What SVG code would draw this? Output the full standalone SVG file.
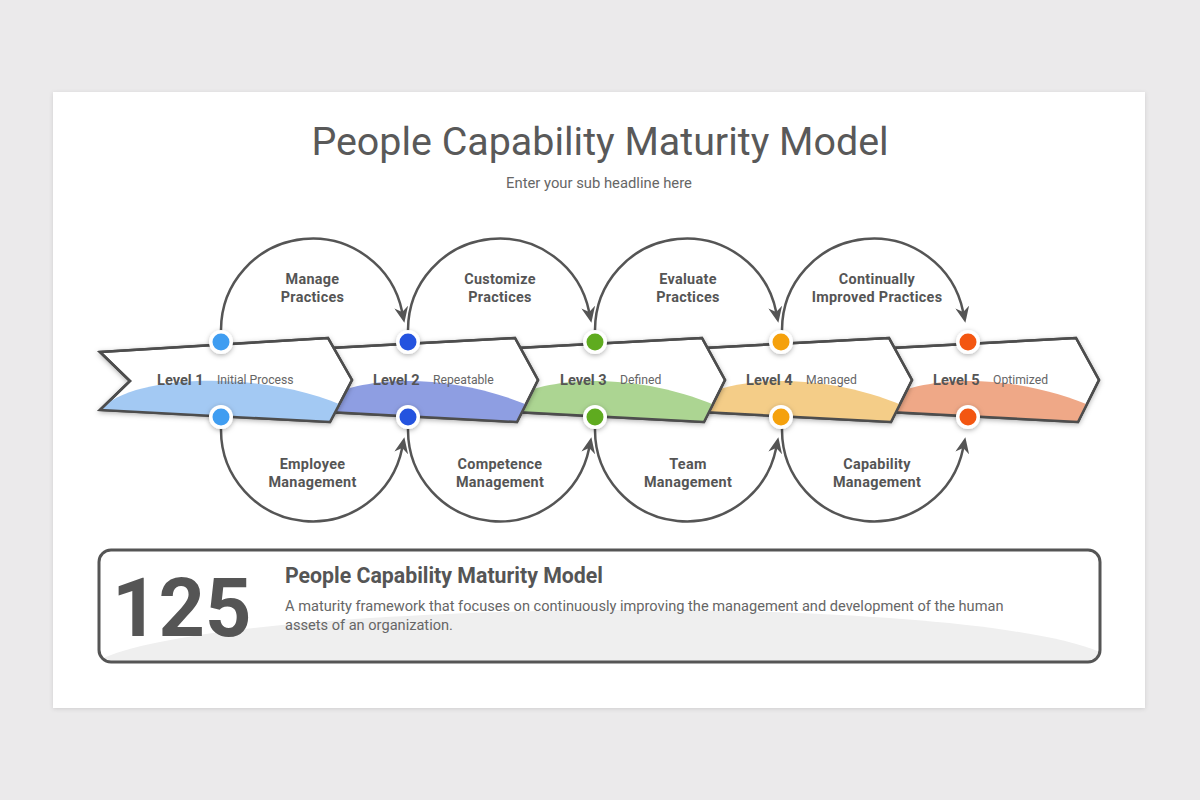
<svg xmlns="http://www.w3.org/2000/svg" width="1200" height="800" viewBox="0 0 1200 800">
<defs>
<style>
.title{font-family:Roboto,"Liberation Sans",sans-serif;font-size:39.4px;fill:#595959;text-anchor:middle}
.sub{font-family:Roboto,"Liberation Sans",sans-serif;font-size:14.8px;fill:#666;text-anchor:middle}
.chev{fill:#fff;stroke:#4d4d4d;stroke-width:2.5;stroke-linejoin:miter}
.chevline{fill:none;stroke:#4d4d4d;stroke-width:2.5;stroke-linejoin:miter}
.lvl{font-family:Roboto,"Liberation Sans",sans-serif;font-size:14.6px;font-weight:bold;fill:#555}
.lvlsub{font-family:Roboto,"Liberation Sans",sans-serif;font-size:12.2px;fill:#666}
.loop{fill:none;stroke:#555;stroke-width:2.5}
.lbl{font-family:Roboto,"Liberation Sans",sans-serif;font-size:14.4px;font-weight:bold;fill:#555;text-anchor:middle;letter-spacing:0.3px}
.ring{fill:#fff;filter:url(#sh)}
.big{font-family:Roboto,"Liberation Sans",sans-serif;font-size:81px;font-weight:bold;fill:#555}
.h2{font-family:Roboto,"Liberation Sans",sans-serif;font-size:21.3px;font-weight:bold;fill:#555}
.desc{font-family:Roboto,"Liberation Sans",sans-serif;font-size:14.6px;fill:#666}
</style>
<filter id="sh" x="-30%" y="-30%" width="160%" height="160%">
<feDropShadow dx="0" dy="1.5" stdDeviation="2.5" flood-color="#000" flood-opacity="0.3"/>
</filter>
<filter id="cardsh" x="-5%" y="-5%" width="110%" height="110%">
<feDropShadow dx="0" dy="1" stdDeviation="2" flood-color="#000" flood-opacity="0.12"/>
</filter>
<marker id="ah" viewBox="0 0 16 14" refX="5" refY="7" markerWidth="16" markerHeight="14" markerUnits="userSpaceOnUse" orient="auto">
<path d="M0,0 L16,7 L0,14 L5,7 Z" fill="#555"/>
</marker>
<clipPath id="c1"><path d="M100,352 L328,338 L352,380 L330,422 L100,410 L130,381 Z"/></clipPath>
<clipPath id="c2"><path d="M330,348 L515,338 L538,380 L517,422 L328,412 L345,380 Z"/></clipPath>
<clipPath id="c3"><path d="M517,348 L702,338 L725,380 L704,422 L515,412 L532,380 Z"/></clipPath>
<clipPath id="c4"><path d="M704,348 L889,338 L912,380 L891,422 L702,412 L719,380 Z"/></clipPath>
<clipPath id="c5"><path d="M891,348 L1076,338 L1099,380 L1078,422 L889,412 L906,380 Z"/></clipPath>
<clipPath id="boxclip"><rect x="99" y="550" width="1001" height="112" rx="12"/></clipPath>
</defs>

<rect width="1200" height="800" fill="#ebeaeb"/>
<rect x="53" y="92" width="1092" height="616" fill="#fff" filter="url(#cardsh)"/>

<text class="title" x="600" y="155">People Capability Maturity Model</text>
<text class="sub" x="599" y="188">Enter your sub headline here</text>

<g id="connectors">
<path class="loop" d="M221,336 L221,330 A91.5,91.5 0 0 1 402.2,312" marker-end="url(#ah)"/>
<path class="loop" d="M408,336 L408,330 A91.5,91.5 0 0 1 589.2,312" marker-end="url(#ah)"/>
<path class="loop" d="M595,336 L595,330 A91.5,91.5 0 0 1 776.2,312" marker-end="url(#ah)"/>
<path class="loop" d="M782,336 L782,330 A91.5,91.5 0 0 1 963.2,312" marker-end="url(#ah)"/>
<path class="loop" d="M221,424 L221,430 A91.5,91.5 0 0 0 402.2,448" marker-end="url(#ah)"/>
<path class="loop" d="M408,424 L408,430 A91.5,91.5 0 0 0 589.2,448" marker-end="url(#ah)"/>
<path class="loop" d="M595,424 L595,430 A91.5,91.5 0 0 0 776.2,448" marker-end="url(#ah)"/>
<path class="loop" d="M782,424 L782,430 A91.5,91.5 0 0 0 963.2,448" marker-end="url(#ah)"/>
</g>

<g id="loop-labels">
<text class="lbl" x="312.5" y="284">Manage</text>
<text class="lbl" x="312.5" y="302">Practices</text>
<text class="lbl" x="500" y="284">Customize</text>
<text class="lbl" x="500" y="302">Practices</text>
<text class="lbl" x="688" y="284">Evaluate</text>
<text class="lbl" x="688" y="302">Practices</text>
<text class="lbl" x="877" y="284">Continually</text>
<text class="lbl" x="877" y="302">Improved Practices</text>
<text class="lbl" x="312.5" y="469">Employee</text>
<text class="lbl" x="312.5" y="487">Management</text>
<text class="lbl" x="500" y="469">Competence</text>
<text class="lbl" x="500" y="487">Management</text>
<text class="lbl" x="688" y="469">Team</text>
<text class="lbl" x="688" y="487">Management</text>
<text class="lbl" x="877" y="469">Capability</text>
<text class="lbl" x="877" y="487">Management</text>
</g>

<g id="level5">
<path class="chev" filter="url(#sh)" d="M891,348 L1076,338 L1099,380 L1078,422 L889,412 L906,380 Z"/>
<path clip-path="url(#c5)" fill="#efa887" d="M886,398 C926,375 1018,372 1100,410 L1100,430 L886,430 Z"/>
<path class="chevline" d="M891,348 L1076,338 L1099,380 L1078,422 L889,412 L906,380 Z"/>
<text class="lvl" x="933" y="385">Level 5</text>
<text class="lvlsub" x="993" y="384">Optimized</text>
</g>
<g id="level4">
<path class="chev" filter="url(#sh)" d="M704,348 L889,338 L912,380 L891,422 L702,412 L719,380 Z"/>
<path clip-path="url(#c4)" fill="#f4cd88" d="M699,398 C739,375 831,372 913,410 L913,430 L699,430 Z"/>
<path class="chevline" d="M704,348 L889,338 L912,380 L891,422 L702,412 L719,380 Z"/>
<text class="lvl" x="746" y="385">Level 4</text>
<text class="lvlsub" x="806" y="384">Managed</text>
</g>
<g id="level3">
<path class="chev" filter="url(#sh)" d="M517,348 L702,338 L725,380 L704,422 L515,412 L532,380 Z"/>
<path clip-path="url(#c3)" fill="#acd592" d="M512,398 C552,375 644,372 726,410 L726,430 L512,430 Z"/>
<path class="chevline" d="M517,348 L702,338 L725,380 L704,422 L515,412 L532,380 Z"/>
<text class="lvl" x="560" y="385">Level 3</text>
<text class="lvlsub" x="620" y="384">Defined</text>
</g>
<g id="level2">
<path class="chev" filter="url(#sh)" d="M330,348 L515,338 L538,380 L517,422 L328,412 L345,380 Z"/>
<path clip-path="url(#c2)" fill="#8e9ee2" d="M325,398 C365,375 457,372 539,410 L539,430 L325,430 Z"/>
<path class="chevline" d="M330,348 L515,338 L538,380 L517,422 L328,412 L345,380 Z"/>
<text class="lvl" x="373" y="385">Level 2</text>
<text class="lvlsub" x="433" y="384">Repeatable</text>
</g>
<g id="level1">
<path class="chev" filter="url(#sh)" d="M100,352 L328,338 L352,380 L330,422 L100,410 L130,381 Z"/>
<path clip-path="url(#c1)" fill="#a3c9f3" d="M95,418 C115,372 270,368 352,410 L352,430 L95,430 Z"/>
<path class="chevline" d="M100,352 L328,338 L352,380 L330,422 L100,410 L130,381 Z"/>
<text class="lvl" x="157" y="385">Level 1</text>
<text class="lvlsub" x="217" y="384">Initial Process</text>
</g>

<g id="dots">
<circle class="ring" cx="221" cy="342" r="12"/><circle cx="221" cy="342" r="8.5" fill="#3f9df1"/>
<circle class="ring" cx="408" cy="342" r="12"/><circle cx="408" cy="342" r="8.5" fill="#2453df"/>
<circle class="ring" cx="595" cy="342" r="12"/><circle cx="595" cy="342" r="8.5" fill="#5fab1f"/>
<circle class="ring" cx="781" cy="342" r="12"/><circle cx="781" cy="342" r="8.5" fill="#f5a10c"/>
<circle class="ring" cx="968" cy="342" r="12"/><circle cx="968" cy="342" r="8.5" fill="#f35611"/>
<circle class="ring" cx="221" cy="417" r="12"/><circle cx="221" cy="417" r="8.5" fill="#3f9df1"/>
<circle class="ring" cx="408" cy="417" r="12"/><circle cx="408" cy="417" r="8.5" fill="#2453df"/>
<circle class="ring" cx="595" cy="417" r="12"/><circle cx="595" cy="417" r="8.5" fill="#5fab1f"/>
<circle class="ring" cx="781" cy="417" r="12"/><circle cx="781" cy="417" r="8.5" fill="#f5a10c"/>
<circle class="ring" cx="968" cy="417" r="12"/><circle cx="968" cy="417" r="8.5" fill="#f35611"/>
</g>

<g id="summary">
<rect x="99" y="550" width="1001" height="112" rx="12" fill="#fff"/>
<path clip-path="url(#boxclip)" fill="#efefef" d="M99,660 C220,600 950,590 1100,652 L1100,665 L99,665 Z"/>
<rect x="99" y="550" width="1001" height="112" rx="12" fill="none" stroke="#555" stroke-width="3"/>
<text class="big" x="112" y="636">125</text>
<text class="h2" x="285" y="583">People Capability Maturity Model</text>
<text class="desc" x="285" y="611">A maturity framework that focuses on continuously improving the management and development of the human</text>
<text class="desc" x="285" y="630">assets of an organization.</text>
</g>
</svg>
